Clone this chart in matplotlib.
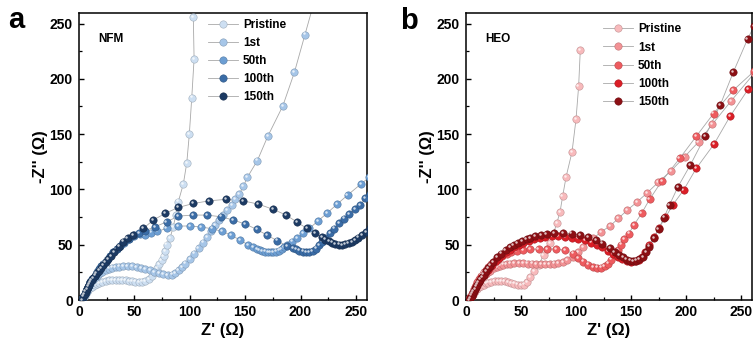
import matplotlib
matplotlib.use('Agg')
import matplotlib.pyplot as plt
from matplotlib.ticker import MultipleLocator
from matplotlib.lines import Line2D
import matplotlib.transforms as mtrans
import matplotlib.colors as mcolors
import numpy as np

plt.rcParams['font.family'] = ['Liberation Sans', 'DejaVu Sans']
plt.rcParams['font.weight'] = 'bold'

labels = ['Pristine', '1st', '50th', '100th', '150th']
nfm_colors = ['#cddff2', '#a6c6e8', '#6c9ed3', '#3a6ca6', '#1c3a63']
heo_colors = ['#f8babc', '#f39295', '#ee5b5f', '#db1e26', '#8c0f14']

# ---------------- NFM data (Z', -Z'') ----------------
nfm_pristine = [(3, 0), (4, 2), (5, 4), (6, 6), (7, 7.5), (8, 9), (10, 10.5), (12, 12), (14, 13.5),
                (16, 14.5), (18, 15.5), (21, 16.5), (24, 17.2), (27, 17.7), (30, 18), (33, 18.2),
                (36, 18.2), (39, 18), (42, 17.7), (45, 17.3), (48, 16.9), (51, 16.6), (54, 16.4),
                (57, 16.6), (60, 17.3), (63, 19), (66, 22), (68.5, 25.5), (70.5, 29), (72.5, 32.5),
                (74.7, 36), (76.3, 40), (77.7, 44), (79.2, 50), (82.2, 56), (85, 66), (87.5, 77),
                (89.7, 89), (94.2, 105), (97.3, 124), (99.6, 150), (101.8, 183), (103.9, 218),
                (103.2, 256), (104.5, 290)]
nfm_1st = [(3, 0), (4, 2.5), (5, 5), (6, 7.5), (7, 10), (8, 12), (9, 14), (11, 16), (13, 18.5),
           (15, 20.5), (17, 22.5), (19, 24), (21, 25.5), (24, 27), (27, 28.3), (30, 29.2), (33, 29.8),
           (36, 30.2), (40, 30.5), (44, 30.5), (48, 30.3), (52, 29.8), (56, 29), (60, 28), (64, 26.8),
           (68, 25.5), (72, 24.2), (76, 23.2), (80, 22.6), (84, 23), (87, 24.5), (90, 27), (93, 30),
           (96, 33), (100, 37), (104, 42), (108, 47), (112, 52), (116, 57), (119.5, 62), (122.8, 68),
           (126.5, 72), (130.4, 77), (134, 81), (137.9, 86), (141, 91), (144.8, 96), (148.5, 103),
           (152, 111), (161, 126), (170.4, 148), (184, 175.5), (194.5, 206), (204, 240), (211, 265)]
nfm_50th = [(3, 0), (4, 2.5), (5, 5), (6, 7.5), (7, 10), (8, 12), (9, 14), (10, 16), (12, 19),
            (14, 22), (16, 25), (18, 28), (20, 30.5), (22, 33), (25, 36.5), (28, 40), (31, 43),
            (34, 46), (37, 49), (41, 52), (45, 55), (50, 58), (55, 60), (59.6, 58.7), (65, 61),
            (70.2, 62), (79.2, 64.7), (89.7, 66.8), (100.3, 67), (110, 66), (120, 64.5), (129.5, 62),
            (137, 58.7), (145.4, 54.2), (152.9, 49.7), (157, 47.5), (160.5, 46), (163, 45),
            (165.5, 44.3), (168, 43.8), (170.5, 43.4), (173, 43.3), (175.5, 43.4), (178, 43.8),
            (180.5, 44.6), (183, 45.8), (185.5, 47.5), (187.6, 49.7), (192.1, 52.7), (197.2, 55.7),
            (202.6, 60.2), (208, 64.7), (215.6, 71.4), (223.7, 78.3), (232.7, 86.4), (242.4, 94.8),
            (254.4, 104.8), (262, 111)]
nfm_100th = [(3, 0), (4, 2.5), (5, 5), (6, 7.5), (7, 10), (8, 12), (9, 14), (10, 16), (12, 19),
             (14, 22), (16, 25), (18, 28), (20, 30.5), (22, 33), (25, 36.5), (28, 40), (31, 43),
             (34, 46), (37, 49), (41, 52.5), (45, 55.5), (50, 58.5), (54.5, 60.5), (59.6, 62.6),
             (68.7, 66.2), (79.2, 70.7), (89.7, 75.9), (103.3, 76.8), (115.4, 76.8), (128, 75.3),
             (139.4, 72.3), (150, 68.7), (160.5, 63.9), (169.6, 58.7), (179, 53.6), (187.6, 48.8),
             (193, 47), (196, 45.8), (199, 44.6), (202, 43.8), (205, 43.4), (208, 43.5), (211, 44.5),
             (214, 46.5), (217, 49.5), (219.5, 52.7), (222.5, 56), (226.7, 60.2), (230.5, 64.5),
             (235, 69.3), (239.5, 73.5), (244, 77.7), (249, 82), (253.8, 85.8), (258.6, 91.8),
             (263, 96)]
nfm_150th = [(3, 0), (4, 3), (5, 5.5), (6, 8), (7, 10), (8, 12), (9, 14), (10, 16), (11.5, 18),
             (13, 20), (14.5, 22), (16, 24), (18, 26.5), (20, 29), (22, 31.5), (24, 34), (26.5, 37),
             (29, 40), (32, 43), (36.4, 48.2), (40, 52.7), (44, 56), (49, 58.7), (58, 64.7),
             (67.1, 72.3), (77.7, 78.3), (89.7, 83.7), (103.3, 87.3), (117.7, 89.7), (132.5, 91),
             (147.9, 89.7), (162, 86.7), (175.5, 81.9), (187, 76.8), (197.2, 70.2), (205.7, 64.7),
             (213.2, 60.2), (219.2, 56.6), (222.5, 54.5), (225.5, 53), (228.5, 51.8), (231.5, 50.8),
             (234.5, 50), (237.3, 49.7), (240.3, 50.2), (243.3, 51.2), (246.3, 52.6), (249.3, 54.2),
             (252.3, 56.3), (255.4, 58.7), (259.3, 61.7), (263, 65)]

# ---------------- HEO data (Z', -Z'') ----------------
heo_pristine = [(3, 0), (4, 2), (5, 3.5), (6, 5), (7, 6.5), (8, 8), (10, 10), (12, 11.5), (14, 13),
                (16, 14), (18, 15), (20, 15.8), (23, 16.4), (26, 16.8), (29, 17), (32, 17), (35, 16.8),
                (38, 16.4), (41, 15.6), (44, 14.8), (47, 14), (50, 13.6), (53, 14), (55.5, 16),
                (58.4, 21), (62, 26), (66, 31.6), (70.5, 40.7), (73.5, 46), (76.5, 51.2), (79.5, 60),
                (82.5, 69.3), (85.5, 79.8), (87.9, 94), (91, 111.4), (96.4, 134), (100, 163.3),
                (102.4, 193.4), (103.9, 225.9)]
heo_1st = [(3, 0), (4, 2.5), (5, 5), (6, 7), (7, 9), (8, 11), (9, 13), (10, 14.5), (12, 17),
           (14, 19.5), (16, 21.5), (18, 23.5), (20, 25), (22, 26.5), (25, 28.5), (28, 30), (31, 31.2),
           (34, 32), (37, 32.6), (40, 33), (44, 33.3), (48, 33.3), (52, 33.2), (56, 33), (60, 32.8),
           (64, 32.6), (68, 32.5), (72, 32.5), (76, 32.7), (80, 33), (84, 33.5), (88, 34.5), (92, 36),
           (97, 38.5), (102, 43), (106.6, 48), (115.6, 55.7), (123, 61.7), (131, 67), (138.5, 73.8),
           (146.6, 81.3), (155.7, 88.8), (164.7, 96.9), (174.6, 106.3), (186.4, 116.8),
           (198.7, 129.5), (211.4, 143), (224, 159), (241, 180), (262, 205)]
heo_50th = [(3, 0), (4, 2.5), (5, 5), (6, 7.5), (7, 10), (8, 12), (9, 14), (10, 16), (12, 19),
            (14, 22), (16, 25), (18, 27.5), (20, 30), (23, 33), (26, 35.5), (29, 37.5), (33, 39.5),
            (37, 41.5), (41, 43), (46, 44.3), (52, 45.2), (58, 45.8), (66, 46.2), (74, 46.3), (82, 46),
            (90, 45), (97.6, 42), (102, 38), (106.6, 34.6), (111, 32), (115.6, 30), (119, 29.3),
            (123, 29.2), (126, 30.5), (129.2, 33), (132, 36.5), (135.2, 40.7), (138, 45),
            (141, 50), (144, 55), (148, 60), (152.7, 67.8), (159.6, 78.3), (167, 91.2),
            (178.2, 107.8), (194.2, 128), (209.3, 148), (225, 168.6), (243, 189.7), (262, 207)]
heo_100th = [(3, 0), (4, 2), (5, 4), (6, 6), (7, 8), (8, 10), (9, 12), (10, 13.5), (12, 16.5),
             (14, 19.5), (16, 22.5), (18, 25), (20, 27.5), (22, 30), (24, 32), (27, 35), (30, 38),
             (33, 40.5), (36, 43), (40, 45.5), (44, 48), (48, 50), (52, 51.5), (57, 53.5), (62, 55),
             (67, 56), (72, 57), (78, 57.5), (84, 57.5), (90, 57), (96, 56.5), (102, 55.5), (108, 54),
             (114, 52), (119, 50), (124, 47.5), (129, 44.5), (134, 41.5), (138, 39), (142, 37),
             (146, 35.5), (150, 34.8), (154, 35), (157, 36.5), (160, 39), (163, 43), (166.2, 49.7),
             (170.7, 56.6), (175.2, 64.7), (181.3, 74.7), (188, 86), (197.8, 99.4), (209.3, 119),
             (225.5, 141), (240, 166), (256.5, 190.6)]
heo_150th = [(3, 0), (4, 2), (5, 4), (6, 6), (7, 8), (8, 10), (9, 12), (10, 14), (11.5, 16),
             (13, 18.5), (14.5, 20.5), (16, 23), (18, 26), (20, 28.5), (22, 31), (24.5, 34),
             (28.3, 38.5), (32, 42), (36, 45), (40, 47.5), (43.4, 49.7), (47, 51.5), (51, 53.5),
             (55, 55), (58.4, 56), (63, 57.5), (68, 58.5), (73.4, 59.3), (80, 60.3), (88.5, 60.8),
             (96, 60), (103.6, 58.7), (111, 56.8), (118.6, 54.2), (124, 51), (130.7, 46.7),
             (135, 43.5), (139, 40.5), (142.7, 38.6), (146, 36.5), (149, 35.5), (151.8, 35.2),
             (154.5, 35.5), (157.5, 36.8), (160.8, 39), (163.8, 43), (166.8, 48.2), (171, 56),
             (175, 64), (180, 74.5), (185, 86), (192.7, 102.4), (203.9, 122), (217.4, 148),
             (231, 176), (243, 206), (256, 236), (262, 248)]

nfm_series = [nfm_pristine, nfm_1st, nfm_50th, nfm_100th, nfm_150th]
heo_series = [heo_pristine, heo_1st, heo_50th, heo_100th, heo_150th]

fig = plt.figure(figsize=(7.56, 3.47), dpi=100)
ax1 = fig.add_axes([79 / 756, 47 / 347, 288 / 756, 287.5 / 347])
ax2 = fig.add_axes([466 / 756, 47 / 347, 286 / 756, 287.5 / 347])


def darker(c, f=0.7):
    r, g, b = mcolors.to_rgb(c)
    return (r * f, g * f, b * f)


def draw(ax, series, colors, name, leg_x, leg_y):
    hl = mtrans.offset_copy(ax.transData, fig=fig, x=-0.9, y=0.9, units='points')
    for pts, col in zip(series, colors):
        arr = np.array(pts, dtype=float)
        ax.plot(arr[:, 0], arr[:, 1], '-', color='#a8a8a8', lw=0.6, zorder=2)
        ax.plot(arr[:, 0], arr[:, 1], 'o', ms=5.3, mfc=col, mec=darker(col, 0.78), mew=0.4,
                ls='none', zorder=3)
        ax.plot(arr[:, 0], arr[:, 1], 'o', ms=1.8, mfc='white', mec='none', alpha=0.75,
                ls='none', zorder=3, transform=hl)
    ax.set_xlim(0, 260)
    ax.set_ylim(0, 260)
    ax.xaxis.set_major_locator(MultipleLocator(50))
    ax.yaxis.set_major_locator(MultipleLocator(50))
    ax.xaxis.set_minor_locator(MultipleLocator(25))
    ax.yaxis.set_minor_locator(MultipleLocator(25))
    ax.tick_params(which='major', direction='in', length=3.5, width=1.0, labelsize=10)
    ax.tick_params(which='minor', direction='in', length=2.2, width=0.9)
    ax.tick_params(axis='x', which='major', pad=3.5)
    ax.tick_params(axis='y', which='major', pad=4.5)
    for lab in ax.get_xticklabels() + ax.get_yticklabels():
        lab.set_fontweight('bold')
    for sp in ax.spines.values():
        sp.set_linewidth(1.1)
    ax.set_xlabel("Z' (\u03a9)", fontsize=12, fontweight='bold', labelpad=3)
    ax.set_ylabel("-Z'' (\u03a9)", fontsize=12, fontweight='bold', labelpad=1)
    ax.text(0.068, 0.908, name, transform=ax.transAxes, fontsize=8.5, fontweight='bold',
            ha='left', va='center')
    handles = [Line2D([0], [0], color='#a8a8a8', lw=0.6, marker='o', ms=5.3, mfc=c,
                      mec=darker(c, 0.78), mew=0.4) for c in colors]
    ax.legend(handles, labels, loc='upper left', bbox_to_anchor=(leg_x, leg_y), frameon=False,
              borderpad=0, borderaxespad=0, handlelength=2.5, handletextpad=0.45,
              labelspacing=0.52, prop={'size': 8.5, 'weight': 'bold'})


draw(ax1, nfm_series, nfm_colors, 'NFM', 0.448, 0.978)
draw(ax2, heo_series, heo_colors, 'HEO', 0.479, 0.962)

fig.text(8 / 756, (347 - 28) / 347, 'a', fontsize=21, fontweight='bold', ha='left', va='baseline')
fig.text(400 / 756, (347 - 29) / 347, 'b', fontsize=21, fontweight='bold', ha='left', va='baseline')

fig.savefig('out.png', dpi=100)
